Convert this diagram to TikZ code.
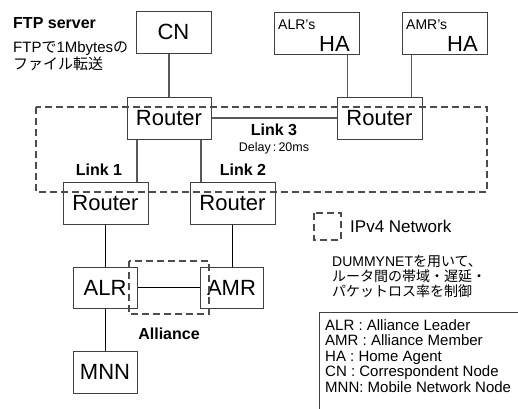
\documentclass[tikz,border=0pt]{standalone}
\usepackage{fontspec}
\setmainfont{Liberation Sans}
\newfontfamily\jp{Noto Sans CJK JP}
\usetikzlibrary{calc}
\begin{document}
\begin{tikzpicture}[x=1pt,y=-1pt,
  box/.style={draw=black!75, line width=1pt, inner sep=0pt, font=\fontsize{22}{26}\selectfont},
  conn/.style={draw=black!65, line width=1.2pt},
  lconn/.style={draw=black, line width=1pt},
  dashbox/.style={draw=black!70, line width=1.2pt, dash pattern=on 7pt off 4pt},
  txt/.style={inner sep=0pt, anchor=base west},
  lbl/.style={inner sep=0pt, anchor=base, font=\bfseries\fontsize{16}{19}\selectfont},
  small/.style={inner sep=0pt, anchor=base, font=\fontsize{12.5}{15}\selectfont},
  jtxt/.style={inner sep=0pt, anchor=base west, font=\fontsize{14}{15}\selectfont},
  legtxt/.style={inner sep=0pt, anchor=base west, font=\fontsize{15}{15}\selectfont}]
\useasboundingbox (0,0) rectangle (518,408);
\clip (0,0) rectangle (518,408);

% boxes
\node[box, minimum width=75, minimum height=42] (cn) at (173.5,32) {CN};
\node[box, minimum width=85, minimum height=42] (alrha) at (316.5,33) {};
\node[box, minimum width=85, minimum height=42] (amrha) at (444.5,33) {};
\node[txt, font=\fontsize{14}{16}\selectfont] (alrhat) at (278,29) {ALR’s};
\node[inner sep=0pt, anchor=base east, font=\fontsize{22}{26}\selectfont] (alrhah) at (350,51) {HA};
\node[txt, font=\fontsize{14}{16}\selectfont] (amrhat) at (406,29) {AMR’s};
\node[inner sep=0pt, anchor=base east, font=\fontsize{22}{26}\selectfont] (amrhah) at (478,51) {HA};

\node[box, minimum width=84, minimum height=42] (tlr) at (169,118) {Router};
\node[box, minimum width=85, minimum height=42] (trr) at (379.5,118) {Router};
\node[box, minimum width=85, minimum height=42] (llr) at (105.5,203) {Router};
\node[box, minimum width=85, minimum height=42] (lrr) at (232.5,203) {Router};
\node[box, minimum width=64, minimum height=41] (alr) at (105,287.5) {ALR};
\node[box, minimum width=63, minimum height=41] (amr) at (231.5,287.5) {AMR};
\node[box, minimum width=64, minimum height=42] (mnn) at (105,372) {MNN};

% dashed regions
\draw[dashbox] (36,107) rectangle (487,192);
\draw[dashbox] (129,261) rectangle (209,314);
\draw[dashbox] (314,213) rectangle (341,240);

% connectors
\draw[conn] (tlr.north) -- (tlr.north |- cn.south);
\coordinate (h1) at ([xshift=11pt]trr.north west);
\coordinate (h2) at ([xshift=75pt]trr.north west);
\draw[conn] (h1) -- (h1 |- alrha.south);
\draw[conn] (h2) -- (h2 |- amrha.south);
\draw[conn] (tlr.east) -- (trr.west);
\coordinate (d1) at ([xshift=-32pt]tlr.south);
\coordinate (d2) at ([xshift=32pt]tlr.south);
\draw[conn] (d1) -- (d1 |- llr.north);
\draw[conn] (d2) -- (d2 |- lrr.north);
\draw[lconn] (llr.south) -- (llr.south |- alr.north);
\draw[lconn] (lrr.south) -- (lrr.south |- amr.north);
\draw[lconn] (alr.east) -- (amr.west);
\draw[lconn] (alr.south) -- (mnn.north);

% labels
\node[txt, font=\bfseries\fontsize{16}{19}\selectfont] (ftp) at (13,28) {FTP server};
\node[txt, font=\fontsize{15}{17}\selectfont] (ftp1) at (13,52) {FTP{\jp で}1Mbytes{\jp の}};
\node[txt, font=\fontsize{15}{17}\selectfont] (ftp2) at (13,69) {\jp ファイル転送};
\node[lbl] (l3) at (274,135.5) {Link 3};
\node[small] (delay) at (274,151) {Delay\,:\,20ms};
\node[lbl] (l1) at (99,175) {Link 1};
\node[lbl] (l2) at (243,175) {Link 2};
\node[lbl] (all) at (169,339) {Alliance};
\node[txt, font=\fontsize{17}{20}\selectfont] (ipv4) at (350,232) {IPv4 Network};
\node[jtxt] (j1) at (332,266) {DUMMYNET{\jp を用いて、}};
\node[jtxt] (j2) at (332,281) {\jp ルータ間の帯域・遅延・};
\node[jtxt] (j3) at (332,296) {\jp パケットロス率を制御};

% legend
\node[draw=black!75, line width=1pt, anchor=north west, minimum width=220, minimum height=110, inner sep=0pt] (legend) at (319,312) {};
\node[legtxt] (lg1) at (325,330) {ALR : Alliance Leader};
\node[legtxt] (lg2) at (325,345.5) {AMR : Alliance Member};
\node[legtxt] (lg3) at (325,361) {HA : Home Agent};
\node[legtxt] (lg4) at (325,376.5) {CN : Correspondent Node};
\node[legtxt] (lg5) at (325,392) {MNN: Mobile Network Node};
\end{tikzpicture}
\end{document}
